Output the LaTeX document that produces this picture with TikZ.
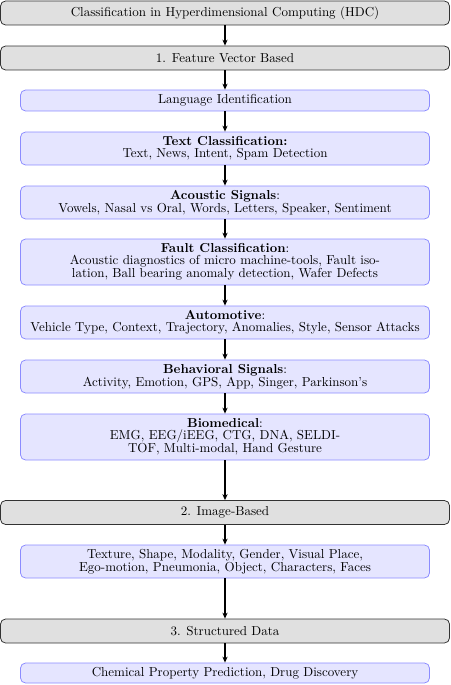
\documentclass[tikz,border=0pt]{standalone}
\usetikzlibrary{arrows.meta}
\begin{document}
\begin{tikzpicture}[x=0.76923pt,y=-0.76923pt,
  catbox/.style={draw=black!80, fill=black!12, rounded corners=3.9pt, line width=0.6pt,
    minimum width=345.4pt, minimum height=18.46pt, inner sep=0pt, align=center,
    font=\fontsize{10}{9}\selectfont},
  subbox/.style={draw=blue!45, fill=blue!10, rounded corners=3.9pt, line width=0.6pt,
    minimum width=314.6pt, inner sep=0pt, align=center,
    font=\fontsize{10}{9}\selectfont},
  flow/.style={-{Stealth[length=4.6pt,width=4pt]}, line width=0.95pt, black}]
\useasboundingbox (0,0) rectangle (450,685);
\node[catbox] (root) at (225,13) {Classification in Hyperdimensional Computing (HDC)};
\node[catbox] (fv) at (225,58) {1. Feature Vector Based};
\node[subbox, minimum height=16.15pt] (lang) at (225,100.5) {Language Identification};
\node[subbox, minimum height=25.38pt] (text) at (225,148.5) {\textbf{Text Classification:}\\Text, News, Intent, Spam Detection};
\node[subbox, minimum height=25.38pt] (acou) at (225,202.5) {\textbf{Acoustic Signals}:\\Vowels, Nasal vs Oral, Words, Letters, Speaker, Sentiment};
\node[subbox, minimum height=35.38pt] (fault) at (225,262) {\textbf{Fault Classification}:\\Acoustic diagnostics of micro machine-tools, Fault iso-\\lation, Ball bearing anomaly detection, Wafer Defects};
\node[subbox, minimum height=25.38pt] (auto) at (225,322.5) {\textbf{Automotive}:\\Vehicle Type, Context, Trajectory, Anomalies, Style, Sensor Attacks};
\node[subbox, minimum height=25.38pt] (beh) at (225,376.5) {\textbf{Behavioral Signals}:\\Activity, Emotion, GPS, App, Singer, Parkinson's};
\node[subbox, minimum height=35.38pt] (bio) at (225,437) {\textbf{Biomedical}:\\EMG, EEG/iEEG, CTG, DNA, SELDI-\\TOF, Multi-modal, Hand Gesture};
\node[catbox] (img) at (225,512.5) {2. Image-Based};
\node[subbox, minimum height=25.38pt] (imgl) at (225,561.5) {Texture, Shape, Modality, Gender, Visual Place,\\Ego-motion, Pneumonia, Object, Characters, Faces};
\node[catbox] (str) at (225,631) {3. Structured Data};
\node[subbox, minimum height=15.38pt] (chem) at (225,673) {Chemical Property Prediction, Drug Discovery};
\foreach \a/\b in {root/fv, fv/lang, lang/text, text/acou, acou/fault, fault/auto, auto/beh, beh/bio, bio/img, img/imgl, imgl/str, str/chem}
  \draw[flow] (\a) -- (\b);
\end{tikzpicture}
\end{document}
